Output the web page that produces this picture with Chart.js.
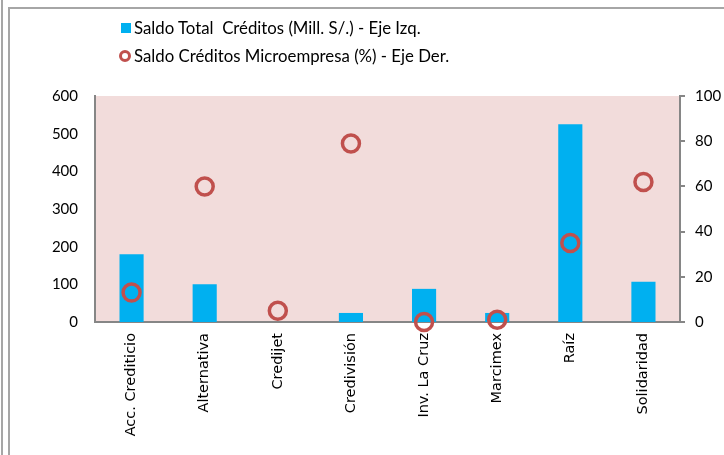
<!DOCTYPE html>
<html>
<head>
<meta charset="utf-8">
<script src="https://cdn.jsdelivr.net/npm/chart.js@4"></script>
<style>
  html, body { margin: 0; padding: 0; background: #fff; }
  #wrap { position: relative; width: 724px; height: 455px; overflow: hidden; }
  #chart { position: absolute; left: 0; top: 0; }
  .frame { position: absolute; background: #a6a6a6; }
  .legend { position: absolute; left: 119px; font-family: Lato, "Open Sans", sans-serif; font-size: 16.8px; color: #000; white-space: pre; }
  .legend .item { position: relative; height: 28px; line-height: 28px; padding-left: 15px; }
  .legend .box { position: absolute; left: 2px; top: 9px; width: 10px; height: 10px; background: #00b0f0; }
  .legend .ring { position: absolute; left: 0px; top: 8px; width: 6px; height: 6px; border: 3.5px solid #c0504d; border-radius: 50%; }
</style>
</head>
<body>
<div id="wrap">
  <canvas id="chart" width="724" height="455"></canvas>
  <div class="frame" style="left:1px;top:0;width:2px;height:455px"></div>
  <div class="frame" style="left:8px;top:7px;width:2px;height:448px"></div>
  <div class="frame" style="left:8px;top:7px;width:716px;height:2px"></div>
  <div class="legend" id="legend" style="top:14px"></div>
</div>
<script>
// Datos del gráfico
const categorias = ['Acc. Crediticio', 'Alternativa', 'Credijet', 'Credivisión', 'Inv. La Cruz', 'Marcimex', 'Raíz', 'Solidaridad'];
const saldoTotal = [180, 100, 0, 24, 88, 24, 525, 107];
const saldoMicro = [13, 60, 5, 79, 0, 1, 35, 62];
const etiquetaBarras = 'Saldo Total  Créditos (Mill. S/.) - Eje Izq.';
const etiquetaPuntos = 'Saldo Créditos Microempresa (%) - Eje Der.';
const ticksIzq = [0, 100, 200, 300, 400, 500, 600];
const ticksDer = [0, 20, 40, 60, 80, 100];

// Leyenda en HTML
const legend = document.getElementById('legend');
legend.innerHTML =
    '<div class="item"><span class="box"></span>' + etiquetaBarras + '</div>' +
    '<div class="item"><span class="ring"></span>' + etiquetaPuntos + '</div>';

// Fondo rosado del área de trazado
const fondoArea = {
    id: 'fondoArea',
    beforeDraw(chart) {
        const a = chart.chartArea;
        const ctx = chart.ctx;
        ctx.save();
        ctx.fillStyle = '#f2dcdb';
        ctx.fillRect(a.left, a.top, a.right - a.left, a.bottom - a.top);
        ctx.restore();
    }
};

const fuenteNum = { family: "Lato, 'Open Sans', sans-serif", size: 15 };

new Chart(document.getElementById('chart'), {
    data: {
        labels: categorias,
        datasets: [{
            type: 'line',
            label: etiquetaPuntos,
            data: saldoMicro,
            yAxisID: 'y1',
            showLine: false,
            pointStyle: 'circle',
            pointRadius: 8.5,
            pointHoverRadius: 8.5,
            pointBorderWidth: 3.5,
            pointBorderColor: '#c0504d',
            pointBackgroundColor: 'rgba(0,0,0,0)',
            clip: false,
            order: 0
        }, {
            type: 'bar',
            label: etiquetaBarras,
            data: saldoTotal,
            yAxisID: 'y',
            backgroundColor: '#00b0f0',
            categoryPercentage: 1,
            barPercentage: 0.33,
            order: 1
        }]
    },
    options: {
        responsive: false,
        animation: false,
        layout: { padding: { top: 96, left: 0, right: 0, bottom: 0 } },
        plugins: {
            legend: { display: false },
            tooltip: { enabled: false }
        },
        scales: {
            x: {
                grid: { display: false, drawTicks: false },
                border: { color: '#868686', width: 2 },
                ticks: {
                    color: '#000',
                    font: { family: "'DejaVu Sans', sans-serif", size: 14.5 },
                    minRotation: 90,
                    maxRotation: 90,
                    padding: 11,
                    autoSkip: false
                },
                afterFit(s) { s.height = 133; }
            },
            y: {
                position: 'left',
                min: ticksIzq[0],
                max: ticksIzq[ticksIzq.length - 1],
                grid: { display: false, drawTicks: false },
                border: { color: '#868686', width: 2 },
                afterBuildTicks(s) { s.ticks = ticksIzq.map(v => ({ value: v })); },
                ticks: { color: '#000', font: fuenteNum, padding: 17 },
                afterFit(s) { s.width = 95; }
            },
            y1: {
                position: 'right',
                min: ticksDer[0],
                max: ticksDer[ticksDer.length - 1],
                grid: { display: true, drawOnChartArea: false, drawTicks: true, tickLength: 5, color: '#868686', lineWidth: 2 },
                border: { color: '#868686', width: 2 },
                afterBuildTicks(s) { s.ticks = ticksDer.map(v => ({ value: v })); },
                ticks: { color: '#000', font: fuenteNum, padding: 10 },
                afterFit(s) { s.width = 44; }
            }
        }
    },
    plugins: [fondoArea]
});
</script>
</body>
</html>
